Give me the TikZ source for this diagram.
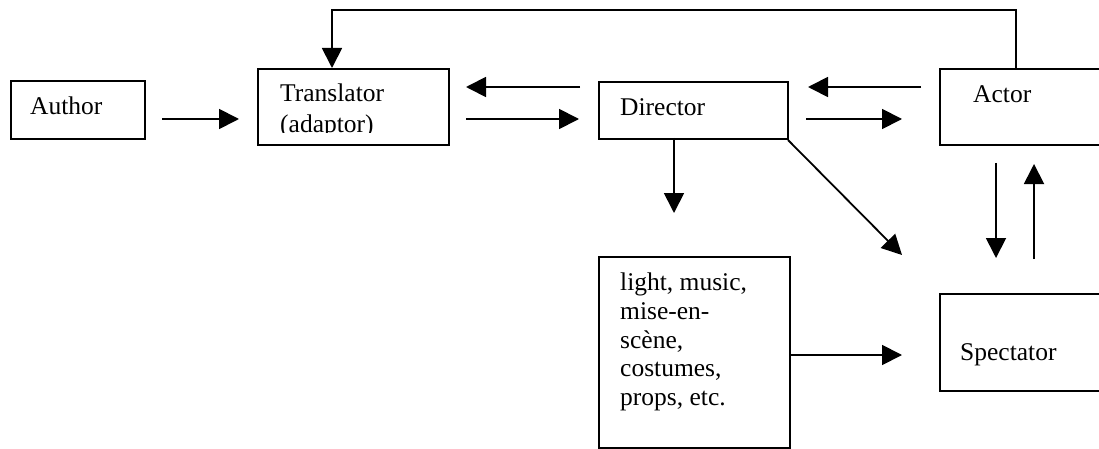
\documentclass[tikz,border=0pt]{standalone}
\usepackage{fontspec}
\setmainfont{Liberation Serif}
\usetikzlibrary{arrows.meta}
\begin{document}
\begin{tikzpicture}[x=1pt,y=-1pt,
  box/.style={draw, line width=1.8pt, inner sep=0pt, anchor=north west},
  lbl/.style={inner sep=0pt, anchor=base west, font=\fontsize{25.5}{28}\selectfont},
  arr/.style={line width=1.8pt, -{Triangle[length=20pt,width=20pt]}},
  ln/.style={line width=1.8pt}]
\useasboundingbox (0,0) rectangle (1099,449);
\clip (0,0) rectangle (1099,449);
% boxes
\node[box, minimum width=134pt, minimum height=58pt] (author) at (10,80) {};
\node[box, minimum width=191pt, minimum height=76pt] (translator) at (257,68) {};
\node[box, minimum width=189pt, minimum height=57pt] (director) at (598,81) {};
\node[box, minimum width=190pt, minimum height=76pt] (actor) at (939,68) {};
\node[box, minimum width=191pt, minimum height=191pt] (light) at (598,256) {};
\node[box, minimum width=190pt, minimum height=97pt] (spectator) at (939,293) {};
% texts
\node[lbl] (tauthor) at (30,115) {Author};
\node[lbl] (ttrans1) at (280,102) {Translator};
\begin{scope}
  \clip (257,68) rectangle (448,133);
  \node[lbl] (ttrans2) at (280,133) {(adaptor)};
\end{scope}
\node[lbl] (tdirector) at (620,116) {Director};
\node[lbl] (tactor) at (973,103) {Actor};
\node[lbl] (tspectator) at (960,360) {Spectator};
\node[inner sep=0pt, anchor=north west, align=left, font=\fontsize{25.5}{28.7}\selectfont] (tlight) at (620,273)
  {light, music,\\mise-en-\\scène,\\costumes,\\props, etc.};
% connector end points
\coordinate (a1) at (162,119); \coordinate (a2) at (239,119);
\coordinate (b1) at (580,87);  \coordinate (b2) at (466,87);
\coordinate (c1) at (466,119); \coordinate (c2) at (579,119);
\coordinate (d1) at (921,87);  \coordinate (d2) at (808,87);
\coordinate (e1) at (806,119); \coordinate (e2) at (902,119);
\coordinate (f1) at (674,138); \coordinate (f2) at (674,213);
\coordinate (g1) at (788,140); \coordinate (g2) at (902,255);
\coordinate (h1) at (789,355); \coordinate (h2) at (902,355);
\coordinate (i1) at (996,163); \coordinate (i2) at (996,258);
\coordinate (j1) at (1034,259); \coordinate (j2) at (1034,164);
\coordinate (k1) at (1016,68); \coordinate (k2) at (1016,10);
\coordinate (k3) at (332,10);  \coordinate (k4) at (332,68);
% connectors
\draw[arr] (a1) -- (a2);
\draw[arr] (b1) -- (b2);
\draw[arr] (c1) -- (c2);
\draw[arr] (d1) -- (d2);
\draw[arr] (e1) -- (e2);
\draw[arr] (f1) -- (f2);
\draw[arr] (g1) -- (g2);
\draw[arr] (h1) -- (h2);
\draw[arr] (i1) -- (i2);
\draw[arr] (j1) -- (j2);
\draw[arr] (k1) -- (k2) -- (k3) -- (k4);
\end{tikzpicture}
\end{document}
